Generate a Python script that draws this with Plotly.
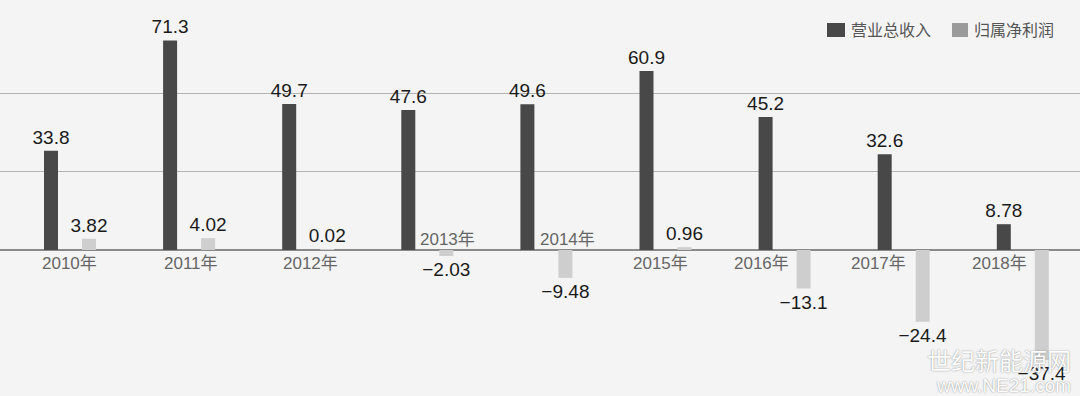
import plotly.graph_objects as go

years = ["2010年", "2011年", "2012年", "2013年", "2014年", "2015年", "2016年", "2017年", "2018年"]
revenue = [33.8, 71.3, 49.7, 47.6, 49.6, 60.9, 45.2, 32.6, 8.78]
net_profit = [3.82, 4.02, 0.02, -2.03, -9.48, 0.96, -13.1, -24.4, -37.4]
series_names = ["营业总收入", "归属净利润"]

# label placement tweaks (pixels) for the year labels sitting on the zero line
label_xshift = [-1, 2, 2, 20, 21, -5, -23, -25, -23]
label_above = [False, False, False, True, True, False, False, False, False]

REV_COLOR = "#484848"
NET_COLOR = "#cecece"
BG = "#f4f4f4"
FONT = "Liberation Sans, Arial, Noto Sans CJK SC, sans-serif"

def fmt(v):
    return str(v).replace("-", "\u2212")

x = list(range(len(years)))
bw = 14 / 119.1

fig = go.Figure()
fig.add_trace(go.Bar(
    x=x, y=revenue, name=series_names[0],
    marker=dict(color=REV_COLOR, line=dict(width=0)),
    width=bw, offset=-19 / 119.1 - bw / 2,
    text=[fmt(v) for v in revenue], textposition="outside",
    constraintext="none", cliponaxis=False,
    textfont=dict(family=FONT, size=19, color="#1a1a1a"),
    showlegend=False,
))
fig.add_trace(go.Bar(
    x=x, y=net_profit, name=series_names[1],
    marker=dict(color=NET_COLOR, line=dict(width=0)),
    width=bw, offset=19 / 119.1 - bw / 2,
    text=[fmt(v) for v in net_profit], textposition="outside",
    constraintext="none", cliponaxis=False,
    textfont=dict(family=FONT, size=19, color="#1a1a1a"),
    showlegend=False,
))

annotations = []
for i, lab in enumerate(years):
    annotations.append(dict(
        x=i, y=0, xref="x", yref="y", text=lab, showarrow=False,
        xanchor="center", yanchor="middle",
        xshift=label_xshift[i], yshift=11 if label_above[i] else -13,
        font=dict(family=FONT, size=17, color="#666666"),
    ))

# custom legend (top right)
shapes = []
leg = [(827, 845, REV_COLOR, 849, series_names[0]), (952, 968, "#9a9a9a", 972, series_names[1])]
for x0, x1, col, tx, name in leg:
    shapes.append(dict(type="rect", xref="paper", yref="paper",
                       x0=x0 / 1080, x1=x1 / 1080, y0=1 - 37 / 396, y1=1 - 23 / 396,
                       fillcolor=col, line=dict(width=0)))
    annotations.append(dict(x=tx / 1080, y=1 - 30 / 396, xref="paper", yref="paper",
                            text=name, showarrow=False, xanchor="left", yanchor="middle",
                            font=dict(family=FONT, size=16, color="#555555")))

# watermark
annotations.append(dict(x=1073 / 1080, y=1 - 359 / 396, xref="paper", yref="paper",
                        text="世纪新能源网", showarrow=False, xanchor="right", yanchor="middle",
                        font=dict(family="Noto Sans CJK SC", size=24, color="#ffffff",
                                  shadow="0px 0px 1.5px #777")))
annotations.append(dict(x=1073 / 1080, y=1 - 385 / 396, xref="paper", yref="paper",
                        text="www.NE21.com", showarrow=False, xanchor="right", yanchor="middle",
                        font=dict(family=FONT, size=19, color="#ffffff",
                                  shadow="0px 0px 1.5px #777")))

fig.update_layout(
    width=1080, height=396,
    margin=dict(l=0, r=0, t=0, b=0),
    paper_bgcolor=BG, plot_bgcolor=BG,
    barmode="overlay",
    showlegend=False,
    xaxis=dict(range=[-70 / 119.1, (1080 - 70) / 119.1], showgrid=False, zeroline=False,
               showticklabels=False, ticks="", fixedrange=True),
    yaxis=dict(range=[-146 / 2.94, 250 / 2.94], tickvals=[80 / 3, 160 / 3],
               showgrid=True, gridcolor="#b4b4b4", gridwidth=1,
               zeroline=True, zerolinecolor="#8a8a8a", zerolinewidth=1.5,
               showticklabels=False, ticks="", fixedrange=True),
    annotations=annotations,
    shapes=shapes,
    font=dict(family=FONT),
)

fig.write_html("out.html")
